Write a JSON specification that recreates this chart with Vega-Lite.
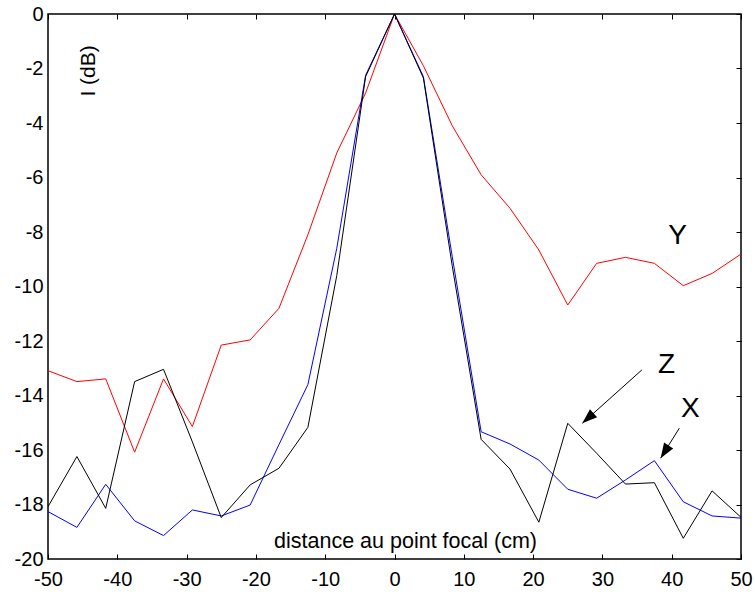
{
  "$schema": "https://vega.github.io/schema/vega-lite/v6.json",
  "width": 693,
  "height": 545,
  "autosize": {"type": "none"},
  "padding": {"left": 48, "top": 14, "right": 14, "bottom": 33},
  "background": "white",
  "config": {
    "view": {"stroke": "#000", "strokeWidth": 1.5},
    "axis": {"grid": false, "domain": false, "labelFont": "Liberation Sans", "labelFontSize": 20, "labelColor": "#000", "tickColor": "#000", "tickWidth": 1, "title": null, "labelExpr": "'' + datum.value"}
  },
  "datasets": {
    "curves": [
      {"x": -50, "s": "Y", "v": -13.09}, {"x": -45.83, "s": "Y", "v": -13.49}, {"x": -41.67, "s": "Y", "v": -13.39}, {"x": -37.5, "s": "Y", "v": -16.08}, {"x": -33.33, "s": "Y", "v": -13.39}, {"x": -29.17, "s": "Y", "v": -15.14}, {"x": -25, "s": "Y", "v": -12.15}, {"x": -20.83, "s": "Y", "v": -11.96}, {"x": -16.67, "s": "Y", "v": -10.8}, {"x": -12.5, "s": "Y", "v": -8.1}, {"x": -8.33, "s": "Y", "v": -5.1}, {"x": -4.17, "s": "Y", "v": -2.9}, {"x": 0, "s": "Y", "v": 0}, {"x": 4.17, "s": "Y", "v": -1.9}, {"x": 8.33, "s": "Y", "v": -4.1}, {"x": 12.5, "s": "Y", "v": -5.9}, {"x": 16.67, "s": "Y", "v": -7.13}, {"x": 20.83, "s": "Y", "v": -8.66}, {"x": 25, "s": "Y", "v": -10.68}, {"x": 29.17, "s": "Y", "v": -9.15}, {"x": 33.33, "s": "Y", "v": -8.93}, {"x": 37.5, "s": "Y", "v": -9.15}, {"x": 41.67, "s": "Y", "v": -9.97}, {"x": 45.83, "s": "Y", "v": -9.52}, {"x": 50, "s": "Y", "v": -8.81},
      {"x": -50, "s": "X", "v": -18.26}, {"x": -45.83, "s": "X", "v": -18.84}, {"x": -41.67, "s": "X", "v": -17.26}, {"x": -37.5, "s": "X", "v": -18.6}, {"x": -33.33, "s": "X", "v": -19.14}, {"x": -29.17, "s": "X", "v": -18.2}, {"x": -25, "s": "X", "v": -18.42}, {"x": -20.83, "s": "X", "v": -18.02}, {"x": -16.67, "s": "X", "v": -15.8}, {"x": -12.5, "s": "X", "v": -13.6}, {"x": -8.33, "s": "X", "v": -8.6}, {"x": -4.17, "s": "X", "v": -2.25}, {"x": 0, "s": "X", "v": 0}, {"x": 4.17, "s": "X", "v": -2.3}, {"x": 8.33, "s": "X", "v": -8.9}, {"x": 12.5, "s": "X", "v": -15.33}, {"x": 16.67, "s": "X", "v": -15.78}, {"x": 20.83, "s": "X", "v": -16.37}, {"x": 25, "s": "X", "v": -17.44}, {"x": 29.17, "s": "X", "v": -17.77}, {"x": 33.33, "s": "X", "v": -17.1}, {"x": 37.5, "s": "X", "v": -16.39}, {"x": 41.67, "s": "X", "v": -17.9}, {"x": 45.83, "s": "X", "v": -18.42}, {"x": 50, "s": "X", "v": -18.5},
      {"x": -50, "s": "Z", "v": -18.08}, {"x": -45.83, "s": "Z", "v": -16.24}, {"x": -41.67, "s": "Z", "v": -18.14}, {"x": -37.5, "s": "Z", "v": -13.49}, {"x": -33.33, "s": "Z", "v": -13.04}, {"x": -29.17, "s": "Z", "v": -15.7}, {"x": -25, "s": "Z", "v": -18.48}, {"x": -20.83, "s": "Z", "v": -17.28}, {"x": -16.67, "s": "Z", "v": -16.67}, {"x": -12.5, "s": "Z", "v": -15.17}, {"x": -8.33, "s": "Z", "v": -9.6}, {"x": -4.17, "s": "Z", "v": -2.3}, {"x": 0, "s": "Z", "v": 0}, {"x": 4.17, "s": "Z", "v": -2.35}, {"x": 8.33, "s": "Z", "v": -9.24}, {"x": 12.5, "s": "Z", "v": -15.61}, {"x": 16.67, "s": "Z", "v": -16.7}, {"x": 20.83, "s": "Z", "v": -18.65}, {"x": 25, "s": "Z", "v": -15.02}, {"x": 29.17, "s": "Z", "v": -16.12}, {"x": 33.33, "s": "Z", "v": -17.25}, {"x": 37.5, "s": "Z", "v": -17.2}, {"x": 41.67, "s": "Z", "v": -19.24}, {"x": 45.83, "s": "Z", "v": -17.5}, {"x": 50, "s": "Z", "v": -18.47}
    ],
    "labels": [
      {"x": 40.84, "y": -8.44, "t": "Y"},
      {"x": 39.25, "y": -13.19, "t": "Z"},
      {"x": 42.7, "y": -14.78, "t": "X"}
    ],
    "arrows": [
      {"a": "Z", "x": 35.7, "y": -13.06, "x2": 27.1, "y2": -15.02},
      {"a": "X", "x": 41.1, "y": -15.2, "x2": 38.4, "y2": -16.3}
    ],
    "titles": [
      {"x": 1.59, "y": -19.61, "t": "distance au point focal (cm)", "k": "h"},
      {"x": -43.15, "y": -2.09, "t": "I (dB)", "k": "v"}
    ]
  },
  "resolve": {"axis": {"x": "independent", "y": "independent"}},
  "layer": [
    {
      "data": {"name": "curves"},
      "mark": {"type": "line", "strokeWidth": 1, "clip": true},
      "encoding": {
        "x": {"field": "x", "type": "quantitative", "scale": {"domain": [-50, 50], "nice": false, "zero": false},
              "axis": {"orient": "bottom", "values": [-50, -40, -30, -20, -10, 0, 10, 20, 30, 40, 50], "tickSize": -5, "labelPadding": 15, "labelFlush": false}},
        "y": {"field": "v", "type": "quantitative", "scale": {"domain": [-20, 0], "nice": false, "zero": false},
              "axis": {"orient": "left", "values": [-20, -18, -16, -14, -12, -10, -8, -6, -4, -2, 0], "ticks": false, "labelPadding": 5, "labelFlush": false}},
        "color": {"field": "s", "type": "nominal", "scale": {"domain": ["Y", "X", "Z"], "range": ["#ff0000", "#0000ff", "#000000"]}, "legend": null},
        "order": {"field": "x", "type": "quantitative"}
      }
    },
    {
      "data": {"name": "labels"},
      "mark": {"type": "text", "font": "Liberation Sans", "fontSize": 28, "align": "center", "baseline": "alphabetic", "color": "#000"},
      "encoding": {
        "x": {"field": "x", "type": "quantitative", "axis": {"orient": "top", "values": [-50, -40, -30, -20, -10, 0, 10, 20, 30, 40, 50], "tickSize": -5, "labels": false}},
        "y": {"field": "y", "type": "quantitative", "axis": {"orient": "right", "values": [-20, -18, -16, -14, -12, -10, -8, -6, -4, -2, 0], "tickSize": -5, "labels": false}},
        "text": {"field": "t"}
      }
    },
    {
      "data": {"name": "arrows"},
      "mark": {"type": "rule", "strokeWidth": 1, "color": "#000"},
      "encoding": {
        "x": {"field": "x", "type": "quantitative", "axis": null},
        "y": {"field": "y", "type": "quantitative", "axis": null},
        "x2": {"field": "x2"},
        "y2": {"field": "y2"}
      }
    },
    {
      "data": {"name": "arrows"},
      "transform": [{"filter": "datum.a == 'Z'"}],
      "mark": {"type": "point", "shape": "M0,0L-0.36,1L0.36,1Z", "filled": true, "color": "#000", "opacity": 1, "size": 900, "angle": 228.4},
      "encoding": {
        "x": {"field": "x2", "type": "quantitative", "axis": null},
        "y": {"field": "y2", "type": "quantitative", "axis": null}
      }
    },
    {
      "data": {"name": "arrows"},
      "transform": [{"filter": "datum.a == 'X'"}],
      "mark": {"type": "point", "shape": "M0,0L-0.36,1L0.36,1Z", "filled": true, "color": "#000", "opacity": 1, "size": 900, "angle": 212.3},
      "encoding": {
        "x": {"field": "x2", "type": "quantitative", "axis": null},
        "y": {"field": "y2", "type": "quantitative", "axis": null}
      }
    },
    {
      "data": {"name": "titles"},
      "transform": [{"filter": "datum.k == 'h'"}],
      "mark": {"type": "text", "font": "Liberation Sans", "fontSize": 21.5, "align": "center", "baseline": "alphabetic", "color": "#000"},
      "encoding": {
        "x": {"field": "x", "type": "quantitative", "axis": null},
        "y": {"field": "y", "type": "quantitative", "axis": null},
        "text": {"field": "t"}
      }
    },
    {
      "data": {"name": "titles"},
      "transform": [{"filter": "datum.k == 'v'"}],
      "mark": {"type": "text", "font": "Liberation Sans", "fontSize": 21, "align": "center", "baseline": "alphabetic", "angle": 270, "color": "#000"},
      "encoding": {
        "x": {"field": "x", "type": "quantitative", "axis": null},
        "y": {"field": "y", "type": "quantitative", "axis": null},
        "text": {"field": "t"}
      }
    }
  ]
}
